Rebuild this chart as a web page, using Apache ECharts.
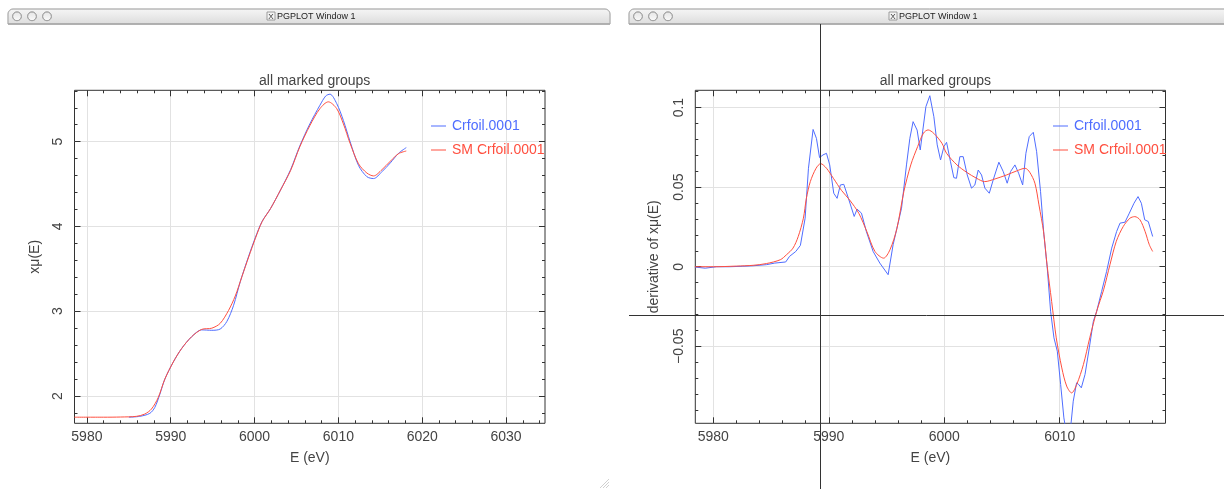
<!DOCTYPE html>
<html>
<head>
<meta charset="utf-8">
<title>all marked groups</title>
<script src="https://cdn.jsdelivr.net/npm/echarts@6/dist/echarts.min.js"></script>
<style>
html, body { margin: 0; padding: 0; background: #fff; }
#main { width: 1224px; height: 489px; }
</style>
</head>
<body>
<div id="main"></div>
<script>
// left window: x mu(E) of the group and its smoothed copy
var muBlueE = [5985.0, 5986.3, 5987.5, 5988.1, 5988.7, 5989.3, 5990.3, 5991.3, 5992.5, 5993.7, 5994.9, 5995.9, 5996.7, 5997.5, 5998.3, 5999.3, 6000.1, 6000.9, 6001.9, 6003.1, 6004.3, 6005.4, 6006.6, 6007.8, 6008.5, 6009.0, 6009.8, 6010.6, 6011.4, 6012.4, 6013.4, 6014.2, 6015.2, 6016.2, 6017.2, 6018.1];
var muBlue  = [1.75, 1.76, 1.795, 1.865, 2.02, 2.2, 2.4, 2.56, 2.70, 2.78, 2.775, 2.79, 2.88, 3.07, 3.35, 3.65, 3.87, 4.06, 4.21, 4.43, 4.67, 4.95, 5.21, 5.43, 5.54, 5.56, 5.45, 5.25, 5.0, 4.72, 4.587, 4.565, 4.646, 4.75, 4.865, 4.93];
var muRedE = [5978.5, 5982.0, 5984.0, 5985.9, 5986.9, 5987.7, 5988.5, 5989.3, 5990.3, 5991.3, 5992.5, 5993.7, 5994.9, 5995.9, 5996.9, 5997.7, 5998.5, 5999.3, 6000.1, 6000.9, 6001.9, 6003.1, 6004.3, 6005.4, 6006.6, 6007.8, 6008.8, 6009.8, 6010.6, 6011.4, 6012.4, 6013.4, 6014.2, 6015.2, 6016.2, 6017.2, 6018.1];
var muRed  = [1.75, 1.75, 1.752, 1.76, 1.787, 1.846, 1.98, 2.2, 2.4, 2.56, 2.70, 2.786, 2.80, 2.857, 3.01, 3.18, 3.41, 3.64, 3.86, 4.056, 4.21, 4.43, 4.66, 4.94, 5.19, 5.39, 5.47, 5.39, 5.21, 4.98, 4.74, 4.63, 4.596, 4.67, 4.77, 4.86, 4.89];

// right window: derivative of x mu(E)
var dBlueE = [5978.41, 5979.3, 5980.27, 5981.42, 5982.5, 5983.44, 5984.6, 5985.32, 5986.27, 5986.6, 5987.14, 5987.54, 5987.95, 5988.24, 5988.64, 5988.93, 5989.2, 5989.5, 5989.8, 5990.08, 5990.43, 5990.72, 5991.0, 5991.3, 5991.7, 5992.2, 5992.45, 5992.83, 5993.26, 5993.84, 5994.42, 5995.14, 5995.57, 5996.3, 5996.73, 5997.02, 5997.3, 5997.65, 5997.92, 5998.41, 5998.75, 5999.1, 5999.39, 5999.68, 5999.97, 6000.2, 6000.54, 6000.83, 6001.06, 6001.35, 6001.64, 6001.99, 6002.36, 6002.65, 6002.94, 6003.23, 6003.52, 6003.9, 6004.24, 6004.73, 6005.11, 6005.45, 6005.74, 6006.12, 6006.44, 6006.79, 6007.07, 6007.36, 6007.71, 6008.0, 6008.34, 6008.63, 6008.92, 6009.21, 6009.5, 6009.79, 6010.08, 6010.36, 6010.65, 6010.85, 6011.0, 6011.17, 6011.46, 6011.64, 6011.87, 6012.19, 6012.56, 6012.91, 6013.2, 6013.63, 6014.06, 6014.5, 6014.93, 6015.22, 6015.65, 6016.03, 6016.43, 6016.78, 6017.07, 6017.36, 6017.67, 6018.05];
var dBlue  = [-0.0002, -0.0009, 0, 0, 0.0003, 0.0006, 0.0013, 0.0023, 0.003, 0.0065, 0.0096, 0.0134, 0.0305, 0.0619, 0.0863, 0.0807, 0.0686, 0.0703, 0.0713, 0.064, 0.0462, 0.043, 0.0514, 0.0518, 0.043, 0.0316, 0.0362, 0.0337, 0.022, 0.0096, 0.0023, -0.005, 0.0138, 0.0368, 0.064, 0.0807, 0.0912, 0.0859, 0.0734, 0.1006, 0.1075, 0.0943, 0.0766, 0.0671, 0.0755, 0.0782, 0.066, 0.056, 0.0556, 0.0692, 0.0692, 0.0577, 0.0494, 0.0514, 0.0608, 0.0577, 0.0494, 0.0462, 0.0546, 0.0657, 0.0598, 0.0525, 0.0598, 0.064, 0.0588, 0.0514, 0.0713, 0.0818, 0.0845, 0.0723, 0.0472, 0.0201, -0.0008, -0.028, -0.0447, -0.0531, -0.074, -0.095, -0.108, -0.108, -0.097, -0.0845, -0.073, -0.074, -0.0761, -0.0677, -0.051, -0.0343, -0.028, -0.0155, -0.0029, 0.0117, 0.0222, 0.0274, 0.028, 0.0337, 0.0399, 0.0441, 0.0399, 0.0295, 0.0284, 0.019];
var dRedE = [5978.4, 5980.0, 5982.0, 5983.45, 5984.6, 5985.8, 5986.33, 5986.9, 5987.35, 5987.8, 5988.06, 5988.4, 5988.9, 5989.3, 5989.8, 5990.4, 5991.1, 5991.8, 5992.6, 5993.3, 5994.0, 5994.75, 5995.3, 5995.9, 5996.5, 5997.1, 5997.7, 5998.2, 5998.6, 5999.1, 5999.8, 6000.2, 6001.1, 6001.93, 6002.8, 6003.5, 6004.4, 6005.4, 6006.26, 6007.0, 6007.4, 6007.85, 6008.2, 6008.6, 6008.9, 6009.3, 6009.7, 6010.18, 6010.6, 6011.03, 6011.47, 6012.05, 6012.6, 6013.2, 6013.8, 6014.35, 6014.9, 6015.5, 6016.08, 6016.5, 6016.95, 6017.4, 6017.76, 6018.05];
var dRed  = [0, 0, 0.0004, 0.0009, 0.002, 0.0044, 0.0075, 0.0117, 0.0189, 0.0305, 0.043, 0.0535, 0.0619, 0.0648, 0.0619, 0.0556, 0.048, 0.042, 0.0336, 0.022, 0.0096, 0.0054, 0.0107, 0.0241, 0.0472, 0.064, 0.0756, 0.084, 0.086, 0.0838, 0.0776, 0.0713, 0.064, 0.0594, 0.0556, 0.0535, 0.0552, 0.0577, 0.0602, 0.0619, 0.0594, 0.0525, 0.0389, 0.022, 0.0013, -0.0218, -0.0447, -0.0636, -0.075, -0.0793, -0.074, -0.0615, -0.0447, -0.028, -0.0145, 0.0013, 0.016, 0.0253, 0.0305, 0.0315, 0.0295, 0.022, 0.0138, 0.0096];

// tick labels
var muXTicks = [5980, 5990, 6000, 6010, 6020, 6030];
var muYTicks = [2, 3, 4, 5];
var dXTicks = [5980, 5990, 6000, 6010];
var dYTicks = [-0.05, 0, 0.05, 0.1];
var cursorPos = [5989.27, -0.0303];   // pgplot cursor in the right window

var BLUE = '#4f6dff', RED = '#ff4f3f';
var FONT = "'Liberation Sans', Arial, sans-serif";
var names = ['Crfoil.0001', 'SM Crfoil.0001'];

function pairs(xs, ys) {
    return xs.map(function (x, i) { return [x, ys[i]]; });
}
function steps(a, b, s) {
    var out = [];
    for (var v = a; v <= b + 1e-9; v += s) out.push(+v.toFixed(4));
    return out;
}

// one frame = 4 axes per dimension: labelled major, minor, opposite major, opposite minor
function frameAxes(dim, grid, min, max, major, minor, name, nameGap, fmt) {
    var sides = dim == 'x' ? ['bottom', 'top'] : ['left', 'right'];
    var base = {
        type: 'value', gridIndex: grid, min: min, max: max, scale: true,
        axisLine: {show: false, onZero: false}, splitLine: {show: false}, axisLabel: {show: false}
    };
    var out = [];
    sides.forEach(function (pos) {
        out.push(Object.assign({}, base, {
            position: pos,
            axisTick: {inside: true, length: 6, customValues: major, lineStyle: {color: '#333'}}
        }));
        out.push(Object.assign({}, base, {
            position: pos,
            axisTick: {inside: true, length: 3, customValues: minor, lineStyle: {color: '#333'}}
        }));
    });
    // labelled one
    Object.assign(out[0], {
        name: name, nameLocation: 'middle', nameGap: nameGap, nameMoveOverlap: false,
        nameTextStyle: {fontFamily: FONT, fontSize: 14, color: '#444'},
        axisLabel: {
            show: true, customValues: major, margin: dim == 'x' ? 7 : 9, rotate: dim == 'x' ? 0 : 90,
            fontFamily: FONT, fontSize: 14, color: '#444', hideOverlap: false,
            formatter: fmt
        },
        splitLine: {show: true, lineStyle: {color: '#e2e2e2', width: 1}}
    });
    return out;
}

function fmtNum(v) { return String(v).replace('-', '\u2212'); }

var chart = echarts.init(document.getElementById('main'));

var xAxes = frameAxes('x', 0, 5978.52, 6034.65, muXTicks, steps(5980, 6034, 2), 'E (eV)', 28, fmtNum)
    .concat(frameAxes('x', 1, 5978.44, 6019.16, dXTicks, steps(5980, 6018, 2), 'E (eV)', 28, fmtNum));
var yAxes = frameAxes('y', 0, 1.678, 5.606, muYTicks, steps(1.8, 5.6, 0.2), 'x\u03bc(E)', 32, fmtNum)
    .concat(frameAxes('y', 1, -0.0984, 0.1109, dYTicks, steps(-0.09, 0.11, 0.01), 'derivative of x\u03bc(E)', 34, fmtNum));

function legendFor(left) {
    return {
        left: left, top: 114, orient: 'vertical', icon: 'rect',
        itemWidth: 15, itemHeight: 1, itemGap: 10, selectedMode: false,
        textStyle: {fontFamily: FONT, fontSize: 14, padding: [0, 0, 0, 1]},
        data: [
            {name: names[0], textStyle: {color: BLUE}},
            {name: names[1], textStyle: {color: RED}}
        ]
    };
}

function chrome(x0, x1, titleX) {
    var items = [
        {type: 'rect', shape: {x: x0, y: 9, width: x1 - x0, height: 15, r: [5, 5, 0, 0]},
            style: {fill: new echarts.graphic.LinearGradient(0, 0, 0, 1, [
                {offset: 0, color: '#f6f6f6'}, {offset: 1, color: '#dcdcdc'}]), stroke: '#b8b8b8', lineWidth: 1}},
        {type: 'line', shape: {x1: x0, y1: 24, x2: x1, y2: 24}, style: {stroke: '#9a9a9a', lineWidth: 1}},
        {type: 'rect', shape: {x: titleX - 10, y: 12, width: 8, height: 8},
            style: {fill: '#f4f4f4', stroke: '#888', lineWidth: 0.8}},
        {type: 'text', style: {text: 'X', x: titleX - 6, y: 16.5, align: 'center', verticalAlign: 'middle',
            font: '8px ' + FONT, fill: '#333'}},
        {type: 'text', style: {text: 'PGPLOT Window 1', x: titleX, y: 16.5, verticalAlign: 'middle',
            font: '9px ' + FONT, fill: '#222'}}
    ];
    [9, 24, 39].forEach(function (dx) {
        items.push({type: 'circle', shape: {cx: x0 + dx, cy: 16.3, r: 4.4},
            style: {fill: new echarts.graphic.LinearGradient(0, 0, 0, 1, [
                {offset: 0, color: '#e4e4e4'}, {offset: 1, color: '#fbfbfb'}]), stroke: '#9c9c9c', lineWidth: 0.8}});
    });
    return items;
}

var grip = [0, 3, 6].map(function (d) {
    return {type: 'line', shape: {x1: 600 + d, y1: 488, x2: 609, y2: 479 + d}, style: {stroke: '#c4c4c4', lineWidth: 0.8}};
});

chart.setOption({
    animation: false,
    backgroundColor: '#fff',
    title: [
        {text: 'all marked groups', left: 309.7, top: 69, textAlign: 'center',
            textStyle: {fontFamily: FONT, fontSize: 14, fontWeight: 'normal', color: '#444'}},
        {text: 'all marked groups', left: 930.4, top: 69, textAlign: 'center',
            textStyle: {fontFamily: FONT, fontSize: 14, fontWeight: 'normal', color: '#444'}}
    ],
    legend: [legendFor(426), legendFor(1048)],
    grid: [
        {left: 74.5, top: 90.3, width: 470.5, height: 333, show: true, borderColor: '#333', borderWidth: 1,
            containLabel: false, outerBoundsMode: 'none'},
        {left: 695.3, top: 90.3, width: 470.2, height: 333, show: true, borderColor: '#333', borderWidth: 1,
            containLabel: false, outerBoundsMode: 'none'}
    ],
    xAxis: xAxes,
    yAxis: yAxes,
    series: [
        {name: names[0], type: 'line', xAxisIndex: 0, yAxisIndex: 0, data: pairs(muBlueE, muBlue),
            showSymbol: false, smooth: 0.3, lineStyle: {color: BLUE, width: 1}, itemStyle: {color: BLUE}},
        {name: names[1], type: 'line', xAxisIndex: 0, yAxisIndex: 0, data: pairs(muRedE, muRed),
            showSymbol: false, smooth: 0.3, lineStyle: {color: RED, width: 1}, itemStyle: {color: RED}},
        {name: names[0], type: 'line', xAxisIndex: 4, yAxisIndex: 4, data: pairs(dBlueE, dBlue),
            showSymbol: false, lineStyle: {color: BLUE, width: 1}, itemStyle: {color: BLUE}},
        {name: names[1], type: 'line', xAxisIndex: 4, yAxisIndex: 4, data: pairs(dRedE, dRed),
            showSymbol: false, smooth: 0.3, lineStyle: {color: RED, width: 1}, itemStyle: {color: RED}}
    ],
    graphic: chrome(8, 610, 277).concat(chrome(629, 1240, 899)).concat(grip)
});

// cursor cross hair of the right window, placed from data coordinates
var cp = chart.convertToPixel({xAxisIndex: 4, yAxisIndex: 4}, cursorPos);
chart.setOption({
    graphic: chrome(8, 610, 277).concat(chrome(629, 1240, 899)).concat(grip).concat([
        {type: 'line', z: 100, shape: {x1: Math.round(cp[0]) + 0.5, y1: 24, x2: Math.round(cp[0]) + 0.5, y2: 489},
            style: {stroke: '#333', lineWidth: 1}},
        {type: 'line', z: 100, shape: {x1: 629, y1: Math.round(cp[1]) + 0.5, x2: 1224, y2: Math.round(cp[1]) + 0.5},
            style: {stroke: '#333', lineWidth: 1}}
    ])
});
</script>
</body>
</html>
